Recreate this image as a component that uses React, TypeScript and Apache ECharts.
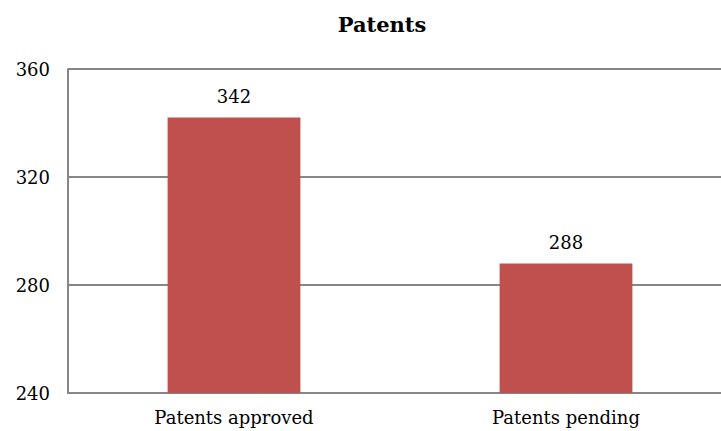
import React, { useEffect, useRef } from "react";
import * as echarts from "echarts";

const categories = ["Patents approved", "Patents pending"];
const values = [342, 288];
const yMin = 240;
const yMax = 360;
const yInterval = 40;

export default function App() {
  const ref = useRef<HTMLDivElement>(null);
  useEffect(() => {
    if (!ref.current) return;
    const chart = echarts.init(ref.current, null, { renderer: "svg" });
    const font = "'DejaVu Serif', serif";
    chart.setOption({
      animation: false,
      title: {
        text: "Patents",
        left: 377,
        textAlign: "center",
        top: 9,
        textStyle: { fontFamily: font, fontWeight: "bold", fontSize: 21, color: "#000" },
      },
      grid: { left: 68, top: 69, right: 0, height: 324, containLabel: false },
      xAxis: {
        type: "category",
        data: categories,
        axisLine: { show: true, lineStyle: { color: "#868686", width: 2 } },
        axisTick: { show: false },
        axisLabel: { fontFamily: font, fontSize: 18, color: "#000", margin: 15 },
      },
      yAxis: {
        type: "value",
        min: yMin,
        max: yMax,
        interval: yInterval,
        axisLine: { show: true, lineStyle: { color: "#868686", width: 2 } },
        axisTick: { show: false },
        splitLine: { show: true, lineStyle: { color: "#868686", width: 2 } },
        axisLabel: { fontFamily: font, fontSize: 18, color: "#000", margin: 18 },
      },
      series: [
        {
          type: "bar",
          data: values,
          barWidth: "40%",
          itemStyle: { color: "#C0504D" },
          label: {
            show: true,
            position: "top",
            distance: 12,
            fontFamily: font,
            fontSize: 18,
            color: "#000",
          },
        },
      ],
    });
    return () => chart.dispose();
  }, []);
  return (
    <div style={{ width: 721, height: 431, position: "absolute", left: 0, top: 0, overflow: "hidden" }}>
      <div ref={ref} style={{ width: 732, height: 431 }} />
    </div>
  );
}
